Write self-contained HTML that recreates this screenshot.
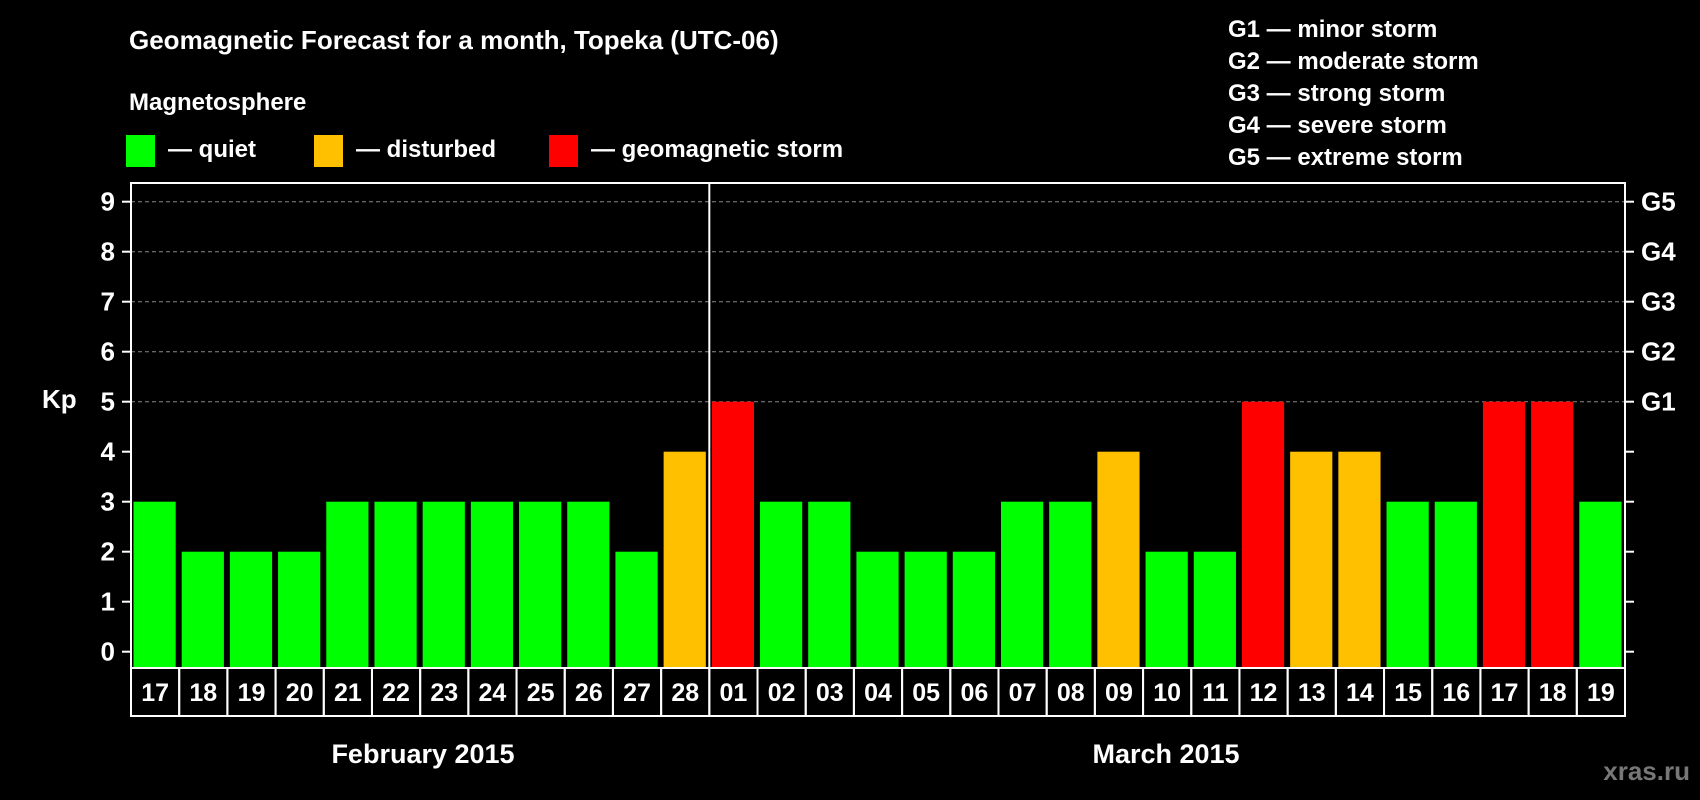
<!DOCTYPE html>
<html><head><meta charset="utf-8"><style>
html,body{margin:0;padding:0;background:#000;}
svg{display:block;font-family:"Liberation Sans",Arial,sans-serif;font-weight:bold;}
</style></head><body>
<svg id="chart" width="1700" height="800" viewBox="0 0 1700 800" xmlns="http://www.w3.org/2000/svg">
<rect width="1700" height="800" fill="#000"/>
<text x="129" y="49" font-size="26" fill="#fff">Geomagnetic Forecast for a month, Topeka (UTC-06)</text>
<text x="129" y="110" font-size="24" fill="#fff">Magnetosphere</text>
<g><rect x="126" y="135" width="29" height="32" fill="#00ff00"/><text x="168" y="157" font-size="24" fill="#fff">— quiet</text></g>
<g><rect x="314" y="135" width="29" height="32" fill="#ffc000"/><text x="356" y="157" font-size="24" fill="#fff">— disturbed</text></g>
<g><rect x="549" y="135" width="29" height="32" fill="#ff0000"/><text x="591" y="157" font-size="24" fill="#fff">— geomagnetic storm</text></g>
<g font-size="24" fill="#fff">
<text x="1228" y="37">G1 — minor storm</text>
<text x="1228" y="69">G2 — moderate storm</text>
<text x="1228" y="101">G3 — strong storm</text>
<text x="1228" y="133">G4 — severe storm</text>
<text x="1228" y="165">G5 — extreme storm</text>
</g>
<text x="42" y="408" font-size="26" fill="#fff">Kp</text>
<g id="grid"></g><g id="bars"></g><g id="axes"></g>
<text x="423" y="763" font-size="27" fill="#fff" text-anchor="middle">February 2015</text>
<text x="1166" y="763" font-size="27" fill="#fff" text-anchor="middle">March 2015</text>
<text x="1690" y="780" font-size="26" fill="#777" text-anchor="end">xras.ru</text>
</svg>
<script>
const days = ["17","18","19","20","21","22","23","24","25","26","27","28","01","02","03","04","05","06","07","08","09","10","11","12","13","14","15","16","17","18","19"];
const kpValues = [3,2,2,2,3,3,3,3,3,3,2,4,5,3,3,2,2,2,3,3,4,2,2,5,4,4,3,3,5,5,3];
const yTicks = [0,1,2,3,4,5,6,7,8,9];
const gLabels = ["","","","","","G1","G2","G3","G4","G5"];
const monthSplit = 12;
const NS="http://www.w3.org/2000/svg";
const L=131,R=1625,T=183,B=668,dateB=716;
const slot=(R-L)/days.length;
const y=v=>651.7-50*v;
const x=i=>L+slot*i;
function mk(t,a,p){const e=document.createElementNS(NS,t);for(const k in a)e.setAttribute(k,a[k]);p.appendChild(e);return e;}
const grid=document.getElementById('grid'),bars=document.getElementById('bars'),axes=document.getElementById('axes');
yTicks.forEach((v,i)=>{
  if(v>=5){const g=mk('line',{x1:L,x2:R,y1:y(v),y2:y(v),stroke:'#888','stroke-width':1,'stroke-dasharray':'4,3'},grid);
  
  }
  const t1=mk('line',{x1:L-9,x2:L,y1:y(v),y2:y(v),stroke:'#fff','stroke-width':2},axes);
  
  
  const t2=mk('line',{x1:R,x2:R+9,y1:y(v),y2:y(v),stroke:'#fff','stroke-width':2},axes);
  
  
  const lb=mk('text',{x:L-16,y:y(v)+9,'font-size':26,fill:'#fff','text-anchor':'end'},axes);lb.textContent=v;
  
  
  if(gLabels[i]){const g2=mk('text',{x:R+16,y:y(v)+9,'font-size':26,fill:'#fff'},axes);g2.textContent=gLabels[i];
  
  }
});
kpValues.forEach((v,i)=>{
  const c=v>=5?'#ff0000':(v>=4?'#ffc000':'#00ff00');
  const b=mk('rect',{x:x(i)+2.5,y:y(v),width:slot-6,height:B-y(v),fill:c},bars);
  
  
  const cell=mk('rect',{x:x(i),y:B,width:slot,height:dateB-B,fill:'none',stroke:'#fff','stroke-width':2},axes);
  
  
  const t=mk('text',{x:x(i)+slot/2,y:B+33,'font-size':25,fill:'#fff','text-anchor':'middle'},axes);t.textContent=days[i];
  
  
});
const fr=mk('rect',{x:L,y:T,width:R-L,height:B-T,fill:'none',stroke:'#fff','stroke-width':2},axes);


const d=mk('line',{x1:x(monthSplit),x2:x(monthSplit),y1:T,y2:B,stroke:'#fff','stroke-width':2},axes);


</script>
</body></html>
